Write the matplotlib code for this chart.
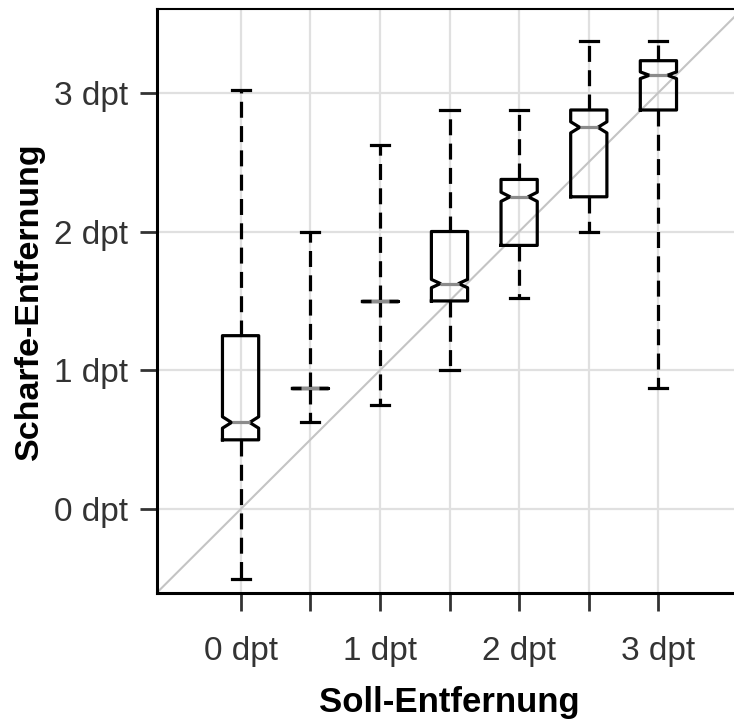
import matplotlib
matplotlib.use("Agg")
import matplotlib.pyplot as plt

# Target distance (Soll) per group and the measured focus distance (Schärfe) summary
positions = [0.0, 0.5, 1.0, 1.5, 2.0, 2.5, 3.0]
medians = [0.625, 0.875, 1.5, 1.625, 2.25, 2.75, 3.125]
q1 = [0.5, 0.875, 1.5, 1.5, 1.9, 2.25, 2.875]
q3 = [1.25, 0.875, 1.5, 2.0, 2.375, 2.875, 3.23]
whisk_lo = [-0.5, 0.625, 0.75, 1.0, 1.52, 2.0, 0.875]
whisk_hi = [3.02, 2.0, 2.625, 2.875, 2.875, 3.375, 3.375]
notch_half = [0.041, 0.0, 0.0, 0.03, 0.033, 0.04, 0.024]

x_ticks = [0.0, 0.5, 1.0, 1.5, 2.0, 2.5, 3.0]
x_ticklabels = ["0 dpt", "", "1 dpt", "", "2 dpt", "", "3 dpt"]
y_ticks = [0, 1, 2, 3]
y_ticklabels = ["0 dpt", "1 dpt", "2 dpt", "3 dpt"]
lims = (-0.6, 3.6)

plt.rcParams["font.family"] = ["Liberation Sans", "DejaVu Sans"]
plt.rcParams["lines.scale_dashes"] = False

fig = plt.figure(figsize=(7.34, 7.2), dpi=100)
ax = fig.add_axes([157 / 734, (720 - 592.6) / 720, 585 / 734, 583.3 / 720])

stats = []
for m, a, b, lo, hi, n in zip(medians, q1, q3, whisk_lo, whisk_hi, notch_half):
    stats.append(dict(med=m, q1=a, q3=b, whislo=lo, whishi=hi,
                      cilo=m - n, cihi=m + n, fliers=[]))

lw = 2.3
ax.bxp(stats, positions=positions, widths=0.26, shownotches=True,
       showfliers=False, manage_ticks=False,
       boxprops=dict(color="black", linewidth=lw, zorder=3),
       whiskerprops=dict(color="black", linewidth=lw, dashes=(11.5, 6),
                         zorder=3),
       capprops=dict(color="black", linewidth=lw, zorder=3),
       medianprops=dict(color="#8c8c8c", linewidth=lw, zorder=4,
                        solid_capstyle="butt"))

# identity line
ax.plot(lims, lims, color="#c4c4c4", linewidth=1.5, zorder=2)

ax.set_xlim(*lims)
ax.set_ylim(*lims)
ax.set_xticks(x_ticks)
ax.set_xticklabels(x_ticklabels)
ax.set_yticks(y_ticks)
ax.set_yticklabels(y_ticklabels)

ax.grid(True, color="#e0e0e0", linewidth=1.6, zorder=0)
ax.set_axisbelow(True)

for side in ("left", "bottom"):
    ax.spines[side].set_linewidth(2.2)
ax.spines["top"].set_linewidth(1.5)
ax.spines["right"].set_visible(False)

ax.tick_params(axis="x", length=13, width=2.0, color="#333333", pad=18,
               labelsize=24, labelcolor="#333333")
ax.tick_params(axis="y", length=12, width=2.0, color="#333333", pad=9,
               labelsize=24, labelcolor="#333333")

ax.set_xlabel("Soll-Entfernung", fontsize=25, fontweight="bold", labelpad=14)
ax.set_ylabel("Scharfe-Entfernung", fontsize=24.5, fontweight="bold",
              labelpad=6)

fig.savefig("out.png", dpi=100)
